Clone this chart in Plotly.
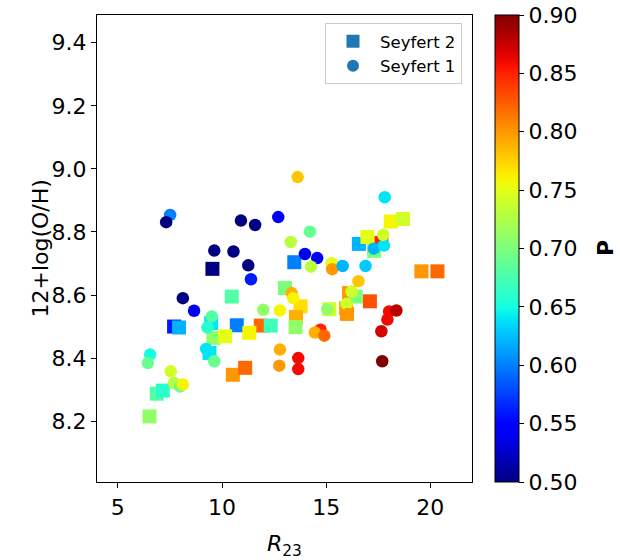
import numpy as np
import plotly.graph_objects as go

# ---- data ----
sy2_x = [9.54, 10.47, 7.70, 7.94, 9.48, 10.71, 9.59, 10.15, 6.87, 7.16, 6.52, 9.40, 10.52, 11.11,
         13.47, 16.57, 17.65, 16.98, 17.30, 18.10, 18.69, 19.57, 20.34, 13.02, 13.77, 13.55, 13.53,
         15.15, 15.95, 16.00, 16.10, 16.42, 17.10, 11.86, 12.34, 11.31]
sy2_y = [8.683, 8.595, 8.500, 8.497, 8.511, 8.504, 8.464, 8.469, 8.287, 8.297, 8.215, 8.416, 8.347, 8.369,
         8.704, 8.762, 8.765, 8.784, 8.740, 8.833, 8.841, 8.675, 8.675, 8.622, 8.564, 8.530, 8.498,
         8.555, 8.558, 8.540, 8.606, 8.595, 8.580, 8.503, 8.503, 8.480]
sy2_p = [0.50, 0.68, 0.56, 0.62, 0.64, 0.60, 0.71, 0.75, 0.68, 0.66, 0.71, 0.64, 0.80, 0.82,
         0.60, 0.62, 0.85, 0.75, 0.70, 0.76, 0.74, 0.80, 0.82, 0.70, 0.77, 0.79, 0.71,
         0.74, 0.79, 0.80, 0.80, 0.70, 0.83, 0.82, 0.67, 0.76]

sy1_x = [7.51, 7.32, 10.91, 9.63, 10.55, 8.12, 8.66, 9.51, 9.30, 6.55, 6.44, 7.54, 7.70, 7.99, 8.12,
         9.24, 9.63, 13.63, 11.59, 12.70, 14.22, 13.30, 11.26, 11.39, 13.98, 14.57, 14.27, 15.26,
         15.29, 15.79, 16.89, 17.29, 17.77, 17.74, 17.81, 16.55, 13.34, 13.42, 16.22, 11.98, 12.78,
         15.05, 15.98, 16.03, 14.73, 14.46, 14.91, 12.78, 12.75, 13.66, 13.66, 18.02, 18.37, 17.94,
         17.65, 17.69]
sy1_y = [8.854, 8.831, 8.836, 8.741, 8.738, 8.590, 8.550, 8.532, 8.497, 8.411, 8.384, 8.358, 8.321, 8.310, 8.316,
         8.429, 8.390, 8.974, 8.822, 8.847, 8.801, 8.768, 8.694, 8.650, 8.730, 8.717, 8.690, 8.701,
         8.682, 8.692, 8.692, 8.747, 8.757, 8.791, 8.910, 8.644, 8.606, 8.590, 8.611, 8.553, 8.551,
         8.555, 8.572, 8.540, 8.490, 8.481, 8.471, 8.427, 8.376, 8.400, 8.365, 8.548, 8.551, 8.522,
         8.485, 8.390]
sy1_p = [0.60, 0.50, 0.50, 0.50, 0.50, 0.50, 0.54, 0.68, 0.66, 0.65, 0.69, 0.74, 0.73, 0.69, 0.76,
         0.64, 0.69, 0.78, 0.50, 0.55, 0.69, 0.73, 0.50, 0.56, 0.54, 0.55, 0.73, 0.75,
         0.80, 0.62, 0.63, 0.62, 0.64, 0.74, 0.64, 0.78, 0.79, 0.76, 0.74, 0.71, 0.76,
         0.71, 0.74, 0.80, 0.85, 0.79, 0.82, 0.79, 0.80, 0.86, 0.86, 0.86, 0.88, 0.86,
         0.87, 0.90]

x_ticks = [5, 10, 15, 20]
y_ticks = [8.2, 8.4, 8.6, 8.8, 9.0, 9.2, 9.4]
p_ticks = [0.50, 0.55, 0.60, 0.65, 0.70, 0.75, 0.80, 0.85, 0.90]

# ---- matplotlib 'jet' colorscale ----
def _seg(pts, t):
    xs = [a for a, b in pts]
    ys = [b for a, b in pts]
    return np.interp(t, xs, ys)

R = [(0, 0), (0.35, 0), (0.66, 1), (0.89, 1), (1, 0.5)]
G = [(0, 0), (0.125, 0), (0.375, 1), (0.64, 1), (0.91, 0), (1, 0)]
B = [(0, 0.5), (0.11, 1), (0.34, 1), (0.65, 0), (1, 0)]
jet = []
for t in np.linspace(0, 1, 41):
    r, g, b = (_seg(R, t), _seg(G, t), _seg(B, t))
    jet.append([float(t), f"rgb({int(round(r*255))},{int(round(g*255))},{int(round(b*255))})"])

FONT = "DejaVu Sans"

fig = go.Figure()
fig.add_trace(go.Scatter(
    x=sy2_x, y=sy2_y, mode="markers", showlegend=False,
    marker=dict(symbol="square", size=14, color=sy2_p, coloraxis="coloraxis", line=dict(width=0)),
))
fig.add_trace(go.Scatter(
    x=sy1_x, y=sy1_y, mode="markers", showlegend=False,
    marker=dict(symbol="circle", size=12.5, color=sy1_p, coloraxis="coloraxis", line=dict(width=0)),
))
# legend proxies
fig.add_trace(go.Scatter(x=[None], y=[None], mode="markers", name="Seyfert 2",
                         marker=dict(symbol="square", size=13, color="#1f77b4")))
fig.add_trace(go.Scatter(x=[None], y=[None], mode="markers", name="Seyfert 1",
                         marker=dict(symbol="circle", size=12, color="#1f77b4")))

axis_common = dict(showline=True, linecolor="black", linewidth=1.2, mirror=True,
                   ticks="outside", ticklen=5, tickwidth=1.2, tickcolor="black",
                   showgrid=False, zeroline=False,
                   tickfont=dict(family=FONT, size=22, color="black"))

fig.update_layout(
    width=620, height=560,
    margin=dict(l=97, r=148, t=15, b=78),
    paper_bgcolor="white", plot_bgcolor="white",
    font=dict(family=FONT, color="black"),
    xaxis=dict(range=[4.0, 22.0], tickvals=x_ticks, **axis_common),
    yaxis=dict(range=[8.007, 9.488], tickvals=y_ticks, tickformat=".1f", **axis_common),
    coloraxis=dict(
        colorscale=jet, cmin=0.5, cmax=0.9,
        colorbar=dict(
            x=(495 - 97) / 375, xanchor="left", xpad=0, ypad=0,
            y=0.5, yanchor="middle", len=1, lenmode="fraction",
            thickness=24, thicknessmode="pixels",
            outlinecolor="black", outlinewidth=1,
            ticks="outside", ticklen=5, tickwidth=1.2, tickcolor="black",
            tickvals=p_ticks, tickformat=".2f",
            tickfont=dict(family=FONT, size=22, color="black"),
        ),
    ),
    legend=dict(
        x=(325 - 97) / 375, xanchor="left", y=1 - (23 - 15) / 467, yanchor="top",
        bgcolor="rgba(255,255,255,0.8)", bordercolor="#cccccc", borderwidth=1,
        font=dict(family=FONT, size=16.5, color="black"),
        itemsizing="trace", itemwidth=44,
    ),
    annotations=[
        dict(text="<i>R</i><sub>23</sub>", xref="paper", yref="paper",
             x=0.5, y=(482 - 545) / 467, xanchor="center", yanchor="middle",
             showarrow=False, font=dict(family=FONT, size=22, color="black")),
        dict(text="12+log(O/H)", xref="paper", yref="paper",
             x=(40 - 97) / 375, y=0.5, xanchor="center", yanchor="middle", textangle=-90,
             showarrow=False, font=dict(family=FONT, size=22, color="black")),
        dict(text="<b>P</b>", xref="paper", yref="paper",
             x=(605 - 97) / 375, y=1 - (248 - 15) / 467, xanchor="center", yanchor="middle",
             textangle=-90, showarrow=False, font=dict(family=FONT, size=22, color="black")),
    ],
)

fig.write_html("out.html")
